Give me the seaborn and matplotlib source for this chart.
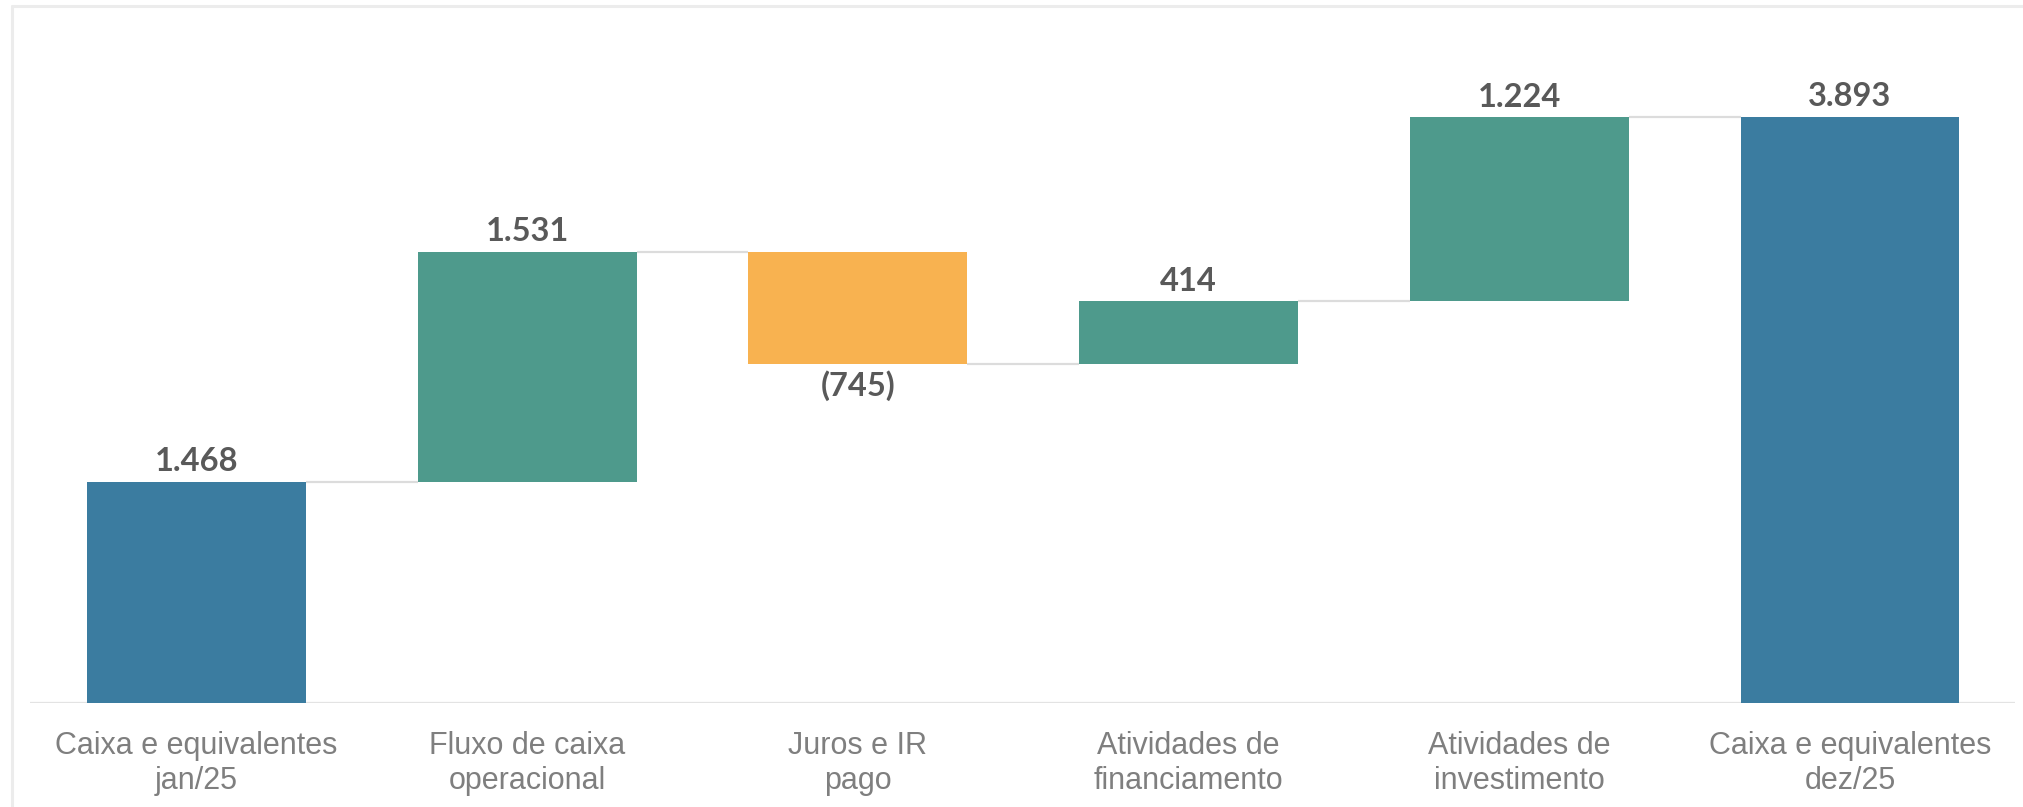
import matplotlib
matplotlib.use("Agg")
import matplotlib.pyplot as plt
import numpy as np
import pandas as pd
import seaborn as sns
from matplotlib.lines import Line2D

# --- dados (R$ milhões) ---
categorias = [
    "Caixa e equivalentes\njan/25",
    "Fluxo de caixa\noperacional",
    "Juros e IR\npago",
    "Atividades de\nfinanciamento",
    "Atividades de\ninvestimento",
    "Caixa e equivalentes\ndez/25",
]
variacoes = [1468, 1531, -745, 414, 1224, 3893]
rotulos = ["1.468", "1.531", "(745)", "414", "1.224", "3.893"]
tipos = ["total", "entrada", "saida", "entrada", "entrada", "total"]

cores = {"total": "#3B7CA0", "entrada": "#4E9A8C", "saida": "#F8B250"}

# bases das barras flutuantes
bases = []
acumulado = 0
for v, t in zip(variacoes, tipos):
    if t == "total":
        bases.append(0)
        acumulado = v
    else:
        bases.append(acumulado if v >= 0 else acumulado + v)
        acumulado += v
alturas = [abs(v) for v in variacoes]

df = pd.DataFrame({
    "categoria": categorias,
    "altura": alturas,
    "base": bases,
    "tipo": tipos,
})

sns.set_theme(style="white")
plt.rcParams["font.family"] = ["Liberation Sans", "DejaVu Sans"]

fig = plt.figure(figsize=(20.23, 8.07), dpi=100)
ax = fig.add_axes([30 / 2023, 104 / 807, 1985 / 2023, 697 / 807])

bar_w = 0.662
sns.barplot(
    data=df, x="categoria", y="altura", bottom=df["base"].values,
    width=bar_w, errorbar=None, ax=ax, linewidth=0,
    color=cores["total"], saturation=1,
)
for patch, t in zip(ax.patches, df["tipo"]):
    patch.set_facecolor(cores[t])

# linhas de ligação
for i in range(len(df) - 1):
    topo = df["base"][i] + df["altura"][i]
    nivel = topo if (variacoes[i] >= 0 or tipos[i] == "total") else df["base"][i]
    if tipos[i + 1] != "total" and variacoes[i + 1] < 0:
        nivel = df["base"][i + 1] + df["altura"][i + 1]
    ax.plot([i + bar_w / 2, i + 1 - bar_w / 2], [nivel, nivel],
            color="#DCDCDC", lw=1.6, zorder=0, solid_capstyle="butt")

ax.axhline(0, color="#E3E3E3", lw=1.6, zorder=0)

# rótulos de valor
for i, (v, r) in enumerate(zip(variacoes, rotulos)):
    if v >= 0:
        y = df["base"][i] + df["altura"][i]
        off, va = 4, "bottom"
    else:
        y = df["base"][i]
        off, va = -5, "top"
    ax.annotate(r, (i, y), xytext=(0, off), textcoords="offset points",
                ha="center", va=va, fontsize=23.5, fontweight="bold",
                color="#595959", family=["Lato", "DejaVu Sans"])

ax.set_xlim(-0.5035, 5.499)
ax.set_ylim(0, 4630)
ax.set_xlabel("")
ax.set_ylabel("")
ax.set_yticks([])
ax.tick_params(axis="x", length=0, pad=20, labelsize=22, labelcolor="#7F7F7F")
for lbl in ax.get_xticklabels():
    lbl.set_linespacing(1.22)
sns.despine(ax=ax, left=True, bottom=True)

# moldura clara
fig.add_artist(Line2D([12 / 2023, 1], [1 - 6 / 807, 1 - 6 / 807],
                      transform=fig.transFigure, color="#ECECEC", lw=2.2))
fig.add_artist(Line2D([12 / 2023, 12 / 2023], [0, 1 - 6 / 807],
                      transform=fig.transFigure, color="#ECECEC", lw=2.2))

fig.savefig("out.png", dpi=100)
